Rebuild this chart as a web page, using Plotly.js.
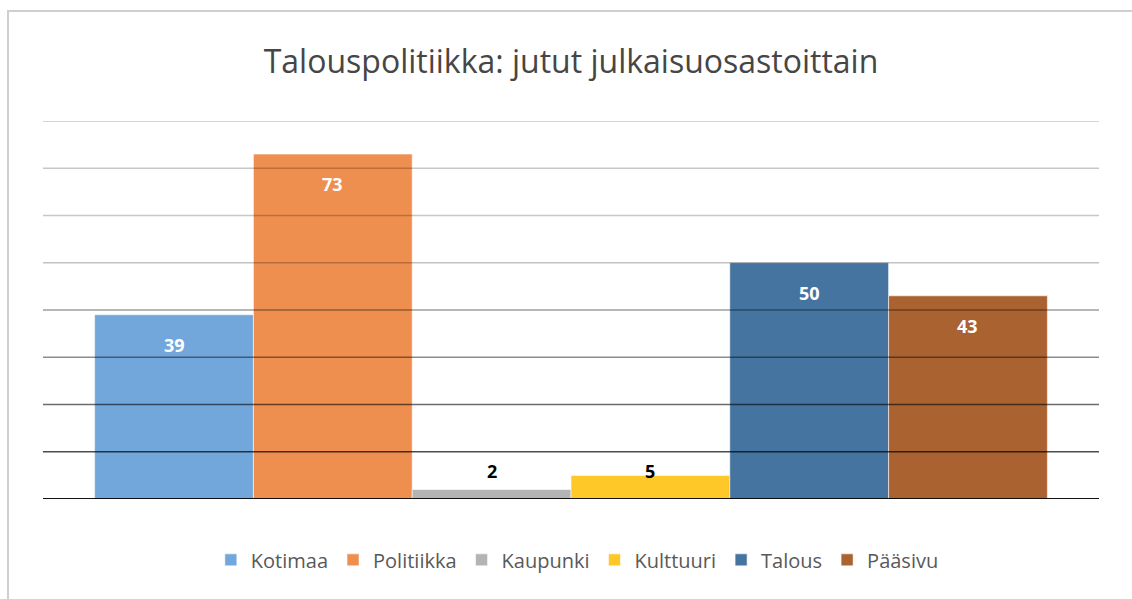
<!DOCTYPE html>
<html>
<head>
<meta charset="utf-8">
<script src="https://cdn.plot.ly/plotly-3.0.1.min.js"></script>
<style>
  html, body { margin: 0; padding: 0; width: 1132px; height: 599px; overflow: hidden; background: #fff; }
  #chart { position: absolute; left: 0; top: 0; width: 1132px; height: 599px; }
  #frame { position: absolute; left: 7px; top: 10px; width: 1200px; height: 700px; border: 2px solid #cfcfcf; pointer-events: none; }
</style>
</head>
<body>
<div id="chart"></div>
<div id="frame"></div>
<script>
// ---- data ----
const categories = ['Kotimaa', 'Politiikka', 'Kaupunki', 'Kulttuuri', 'Talous', 'Pääsivu'];
const values = [39, 73, 2, 5, 50, 43];
const gridTicks = [0, 10, 20, 30, 40, 50, 60, 70, 80];
const chartTitle = 'Talouspolitiikka: jutut julkaisuosastoittain';

// ---- styles ----
const barColors = ['#72a7db', '#ef8f4f', '#b4b4b4', '#ffc829', '#44749f', '#ab6231'];
const gridAlpha = { 0: 0.92, 10: 0.7, 20: 0.58, 30: 0.45, 40: 0.38, 50: 0.24, 60: 0.22, 70: 0.22, 80: 0.22 };
const font = '"Open Sans", "Noto Sans", sans-serif';

const traces = categories.map((c, i) => ({
  type: 'bar',
  name: c,
  x: [c],
  y: [values[i]],
  marker: { color: barColors[i], line: { color: 'rgba(255,255,255,0.55)', width: 1 } },
  hoverinfo: 'skip'
}));

const smallMax = Math.max(...values.filter(v => v < 10));
const annotations = categories.map((c, i) => {
  const v = values[i];
  const inside = v >= 10;
  return {
    x: c, y: inside ? v : smallMax, xref: 'x', yref: 'y',
    text: String(v), showarrow: false,
    yanchor: 'middle', yshift: inside ? -30 : 4,
    font: { family: font, size: 18, color: inside ? '#ffffff' : '#000000', weight: 700 }
  };
});

const shapes = gridTicks.map(t => ({
  type: 'line', xref: 'paper', yref: 'y', x0: 0, x1: 1, y0: t, y1: t,
  layer: 'above',
  line: { color: 'rgba(0,0,0,' + gridAlpha[t] + ')', width: t === 0 ? 2 : 1.5 }
}));

const layout = {
  width: 1132, height: 599,
  margin: { l: 43, r: 33, t: 121, b: 100, pad: 0 },
  paper_bgcolor: '#ffffff', plot_bgcolor: '#ffffff',
  barmode: 'overlay', bargap: 0,
  title: {
    text: chartTitle, x: 0.5, xref: 'paper', xanchor: 'center',
    y: 1 - 62 / 599, yref: 'container', yanchor: 'middle',
    font: { family: font, size: 32, color: '#464646', weight: 400 }
  },
  xaxis: {
    type: 'category', categoryorder: 'array', categoryarray: categories,
    range: [-0.825, categories.length - 1 + 0.825],
    showticklabels: false, showgrid: false, zeroline: false, showline: false, ticks: '', fixedrange: true
  },
  yaxis: {
    range: [0, 80], showticklabels: false, showgrid: false, zeroline: false, showline: false, ticks: '', fixedrange: true
  },
  showlegend: true,
  legend: {
    orientation: 'h', x: 0.506, xanchor: 'center', y: -0.161, yanchor: 'middle',
    font: { family: font, size: 20, color: '#595959' },
    itemclick: false, itemdoubleclick: false, tracegroupgap: 0
  },
  annotations: annotations,
  shapes: shapes
};

Plotly.newPlot('chart', traces, layout, { displayModeBar: false, staticPlot: true });
</script>
</body>
</html>
